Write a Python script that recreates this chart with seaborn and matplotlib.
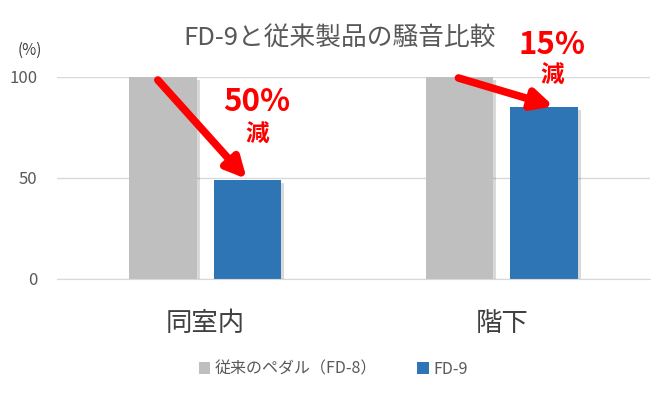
import matplotlib
matplotlib.use("Agg")
import matplotlib.pyplot as plt
import matplotlib.patheffects as pe
from matplotlib.patches import Patch
import seaborn as sns
import pandas as pd

categories = ["同室内", "階下"]
series_names = ["従来のペダル（FD-8）", "FD-9"]
old_values = [100, 100]
new_values = [49, 85]
reduction_labels = ["50%", "15%"]
colors = ["#BFBFBF", "#2E75B6"]

sns.set_style("white")
plt.rcParams["font.family"] = ["Noto Sans CJK JP", "DejaVu Sans"]

df = pd.DataFrame({
    "category": categories * 2,
    "series": [series_names[0]] * 2 + [series_names[1]] * 2,
    "value": old_values + new_values,
})

fig = plt.figure(figsize=(6.67, 3.95), dpi=100)
ax = fig.add_axes([0.0855, 0.2937, 0.889, 0.5114])

sns.barplot(data=df, x="category", y="value", hue="series", palette=colors,
            width=0.57, gap=0.2, saturation=1, linewidth=0, ax=ax, legend=False)

for bar in ax.patches:
    bar.set_path_effects([pe.SimplePatchShadow(offset=(2, -2), shadow_rgbFace="#000000", alpha=0.15),
                          pe.Normal()])

ax.set_ylim(0, 100)
ax.set_xlim(-0.5, 1.5)
ax.set_yticks([0, 50, 100])
ax.yaxis.grid(True, color="#D9D9D9", linewidth=1)
ax.set_axisbelow(True)
for s in ["top", "right", "left"]:
    ax.spines[s].set_visible(False)
ax.spines["bottom"].set_color("#D9D9D9")
ax.tick_params(axis="y", length=0, labelsize=12, labelcolor="#595959", pad=14)
ax.tick_params(axis="x", length=0, labelsize=19, labelcolor="#404040", pad=22)
ax.set_xlabel("")
ax.set_ylabel("")

fig.text(30 / 667, 1 - 50 / 395, "(%)", fontsize=11, color="#404040", ha="center", va="center")
fig.text(340 / 667, 1 - 38 / 395, "FD-9と従来製品の騒音比較", fontsize=18.5,
         color="#595959", ha="center", va="center")

# arrows and reduction notes
arrow_specs = [((-0.16, 98.5), (0.14, 49.5)), ((0.854, 99.5), (1.175, 85.5))]
text_pos = [(0.175, 87.5, 72.0), (1.17, 116.0, 101.0)]
for (start, end), (tx, ty1, ty2), lbl in zip(arrow_specs, text_pos, reduction_labels):
    ax.annotate("", xy=end, xytext=start, annotation_clip=False,
                arrowprops=dict(arrowstyle="-|>,head_length=1.2,head_width=0.6",
                                color="#FF0000", lw=5.5, shrinkA=0, shrinkB=0))
    ax.text(tx, ty1, lbl, color="#FF0000", fontsize=22.5, fontweight="bold",
            ha="center", va="center")
    ax.text(tx, ty2, "減", color="#FF0000", fontsize=17, fontweight="bold",
            ha="center", va="center")

handles = [Patch(facecolor=c, edgecolor="none") for c in colors]
fig.legend(handles, series_names, loc="center", bbox_to_anchor=(0.5, 1 - 369 / 395),
           ncol=2, frameon=False, fontsize=11.5, handlelength=0.7, handleheight=0.7,
           handletextpad=0.3, columnspacing=2.5, labelcolor="#595959")

fig.savefig("out.png", dpi=100)
